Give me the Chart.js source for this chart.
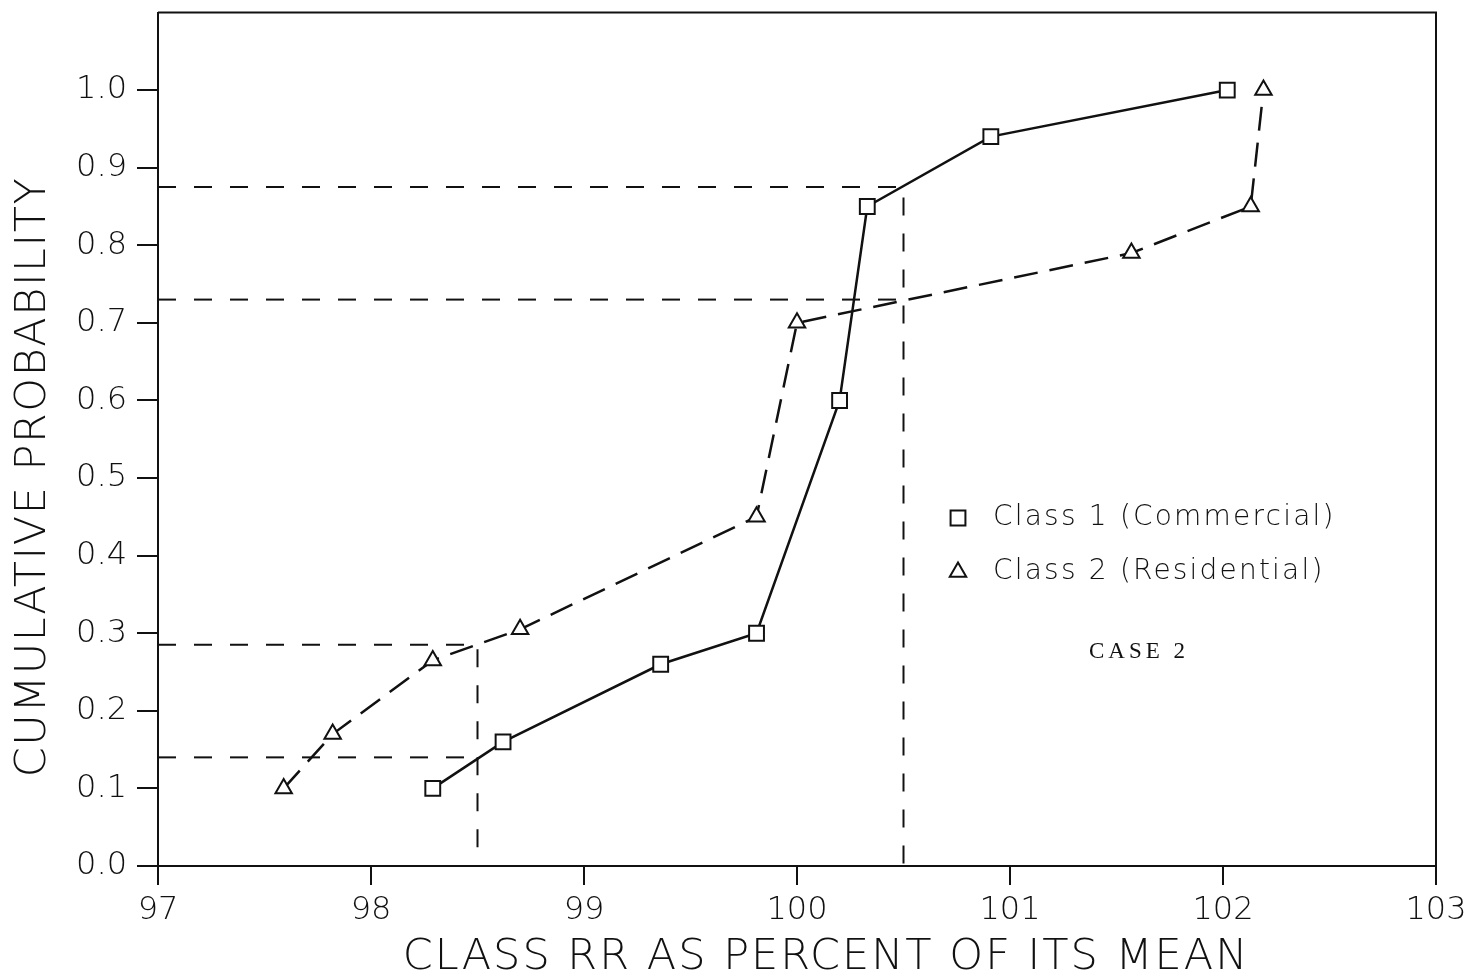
<!DOCTYPE html>
<html>
<head>
<meta charset="utf-8">
<script src="https://cdn.jsdelivr.net/npm/chart.js@4.4.1/dist/chart.umd.min.js"></script>
<style>
  html, body { margin: 0; padding: 0; background: #fff; }
  canvas { display: block; }
</style>
</head>
<body>
<canvas id="c" width="1477" height="978"></canvas>
<script>
// Class 1 (Commercial): cumulative probability vs class RR (% of mean)
const class1X = [98.29, 98.62, 99.36, 99.81, 100.20, 100.33, 100.91, 102.02];
const class1Y = [0.10, 0.16, 0.26, 0.30, 0.60, 0.85, 0.94, 1.00];

// Class 2 (Residential)
const class2X = [97.59, 97.82, 98.29, 98.70, 99.81, 100.00, 101.57, 102.13, 102.19];
const class2Y = [0.10, 0.17, 0.265, 0.305, 0.45, 0.70, 0.79, 0.85, 1.00];

// Dashed read-off lines
const guideHighX = [97, 100.5, 100.5];
const guideHighY = [0.875, 0.875, 0];
const guideMidX = [97, 100.5];
const guideMidY = [0.73, 0.73];
const guideLowX = [97, 98.5, 98.5];
const guideLowY = [0.285, 0.285, 0];
const guideBaseX = [97, 98.5];
const guideBaseY = [0.14, 0.14];

// Axis ticks
const xTickValues = [97, 98, 99, 100, 101, 102, 103];
const xTickLabels = ['97', '98', '99', '100', '101', '102', '103'];
const yTickValues = [0, 0.1, 0.2, 0.3, 0.4, 0.5, 0.6, 0.7, 0.8, 0.9, 1.0];
const yTickLabels = ['0.0', '0.1', '0.2', '0.3', '0.4', '0.5', '0.6', '0.7', '0.8', '0.9', '1.0'];

// Text
const seriesNames = ['Class 1 (Commercial)', 'Class 2 (Residential)'];
const xTitle = 'CLASS RR AS PERCENT OF ITS MEAN';
const yTitle = 'CUMULATIVE PROBABILITY';
const caseNote = 'CASE 2';

const FONT = '"DejaVu Sans", "Liberation Sans", sans-serif';
const INK = '#111';

const pts = (xs, ys) => xs.map((x, i) => ({ x, y: ys[i] }));

const guideStyle = {
  showLine: true,
  borderColor: INK,
  borderWidth: 2,
  borderDash: [18, 18],
  pointRadius: 0,
  pointHoverRadius: 0,
  fill: false,
  tension: 0
};

// Frame, axis titles, legend and case note
const decor = {
  id: 'decor',
  afterDraw(chart) {
    const { ctx, chartArea: a } = chart;
    ctx.save();
    ctx.strokeStyle = INK;
    ctx.lineWidth = 2;
    ctx.beginPath();
    ctx.moveTo(a.left, a.top);
    ctx.lineTo(a.right, a.top);
    ctx.lineTo(a.right, a.bottom);
    ctx.stroke();

    ctx.fillStyle = INK;
    ctx.textBaseline = 'middle';

    // x title
    ctx.font = `200 43px ${FONT}`;
    ctx.letterSpacing = '2px';
    ctx.textAlign = 'center';
    ctx.fillText(xTitle, 826, 958);

    // y title
    ctx.save();
    ctx.translate(34, 477);
    ctx.rotate(-Math.PI / 2);
    ctx.letterSpacing = '1.5px';
    ctx.fillText(yTitle, 0, 0);
    ctx.restore();

    // legend
    const ds = chart.data.datasets;
    const rows = [518, 572];
    ctx.font = `200 28px ${FONT}`;
    ctx.letterSpacing = '2.2px';
    ctx.textAlign = 'left';
    for (let i = 0; i < 2; i++) {
      ctx.save();
      ctx.fillStyle = '#fff';
      ctx.strokeStyle = INK;
      ctx.lineWidth = 2;
      Chart.helpers.drawPoint(ctx, {
        pointStyle: ds[i].pointStyle,
        radius: ds[i].pointRadius,
        rotation: 0,
        borderWidth: 2
      }, 958, rows[i]);
      ctx.restore();
      ctx.fillText(ds[i].label, 993, rows[i]);
    }

    // case note
    ctx.font = `23px "Liberation Serif", "DejaVu Serif", serif`;
    ctx.letterSpacing = '4px';
    ctx.textAlign = 'center';
    ctx.fillText(caseNote, 1139, 652);
    ctx.restore();
  }
};

new Chart(document.getElementById('c'), {
  type: 'scatter',
  data: {
    datasets: [
      {
        label: seriesNames[0],
        data: pts(class1X, class1Y),
        showLine: true,
        borderColor: INK,
        borderWidth: 2.5,
        pointStyle: 'rect',
        pointRadius: 10.5,
        pointBorderWidth: 2,
        pointBorderColor: INK,
        pointBackgroundColor: '#fff',
        tension: 0
      },
      {
        label: seriesNames[1],
        data: pts(class2X, class2Y),
        showLine: true,
        borderColor: INK,
        borderWidth: 2.5,
        borderDash: [24, 12],
        pointStyle: 'triangle',
        pointRadius: 9.5,
        pointBorderWidth: 2,
        pointBorderColor: INK,
        pointBackgroundColor: '#fff',
        tension: 0
      },
      Object.assign({ label: 'guide-high', data: pts(guideHighX, guideHighY) }, guideStyle),
      Object.assign({ label: 'guide-mid', data: pts(guideMidX, guideMidY) }, guideStyle),
      Object.assign({ label: 'guide-low', data: pts(guideLowX, guideLowY) }, guideStyle),
      Object.assign({ label: 'guide-base', data: pts(guideBaseX, guideBaseY) }, guideStyle)
    ]
  },
  options: {
    responsive: false,
    animation: false,
    devicePixelRatio: 1,
    layout: { padding: { left: 0, right: 41, top: 10, bottom: 0 } },
    plugins: {
      legend: { display: false },
      tooltip: { enabled: false },
      title: { display: false }
    },
    scales: {
      x: {
        type: 'linear',
        position: 'bottom',
        min: 97,
        max: 103,
        afterBuildTicks: s => { s.ticks = xTickValues.map(v => ({ value: v })); },
        afterFit: s => { s.height = 112; s.paddingLeft = 0; s.paddingRight = 0; },
        ticks: {
          color: INK,
          font: { family: FONT, size: 32, weight: '200' },
          padding: 6,
          maxRotation: 0,
          autoSkip: false,
          callback: (v, i) => xTickLabels[i]
        },
        grid: { drawOnChartArea: false, drawTicks: true, tickLength: 19, color: INK, lineWidth: 2 },
        border: { display: true, color: INK, width: 2 }
      },
      y: {
        type: 'linear',
        position: 'left',
        min: 0,
        max: 1.1,
        afterBuildTicks: s => { s.ticks = yTickValues.map(v => ({ value: v })); },
        afterFit: s => { s.width = 158; s.paddingTop = 0; s.paddingBottom = 0; },
        ticks: {
          color: INK,
          font: { family: FONT, size: 32, weight: '200' },
          padding: 10,
          autoSkip: false,
          callback: (v, i) => yTickLabels[i]
        },
        grid: { drawOnChartArea: false, drawTicks: true, tickLength: 21, color: INK, lineWidth: 2 },
        border: { display: true, color: INK, width: 2 }
      }
    }
  },
  plugins: [decor]
});
</script>
</body>
</html>
